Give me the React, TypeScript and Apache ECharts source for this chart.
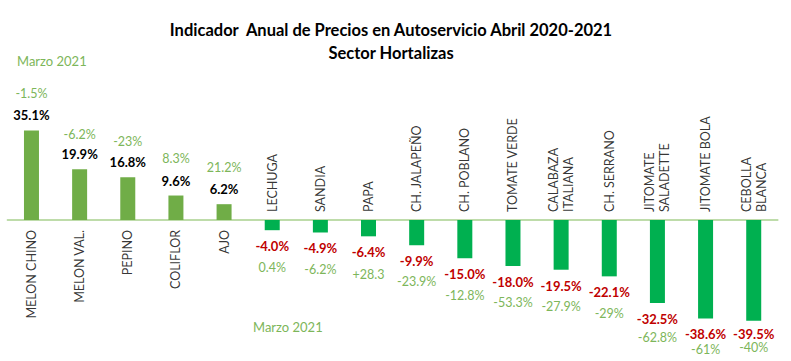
import React, { useEffect, useRef } from "react";
import * as echarts from "echarts";

const categories = [
  "MELON CHINO", "MELON VAL.", "PEPINO", "COLIFLOR", "AJO", "LECHUGA", "SANDIA", "PAPA",
  "CH. JALAPEÑO", "CH. POBLANO", "TOMATE VERDE", "CALABAZA\nITALIANA", "CH. SERRANO",
  "JITOMATE\nSALADETTE", "JITOMATE BOLA", "CEBOLLA\nBLANCA",
];
const abril2021 = [35.1, 19.9, 16.8, 9.6, 6.2, -4.0, -4.9, -6.4, -9.9, -15.0, -18.0, -19.5, -22.1, -32.5, -38.6, -39.5];
const marzo2021 = ["-1.5%", "-6.2%", "-23%", "8.3%", "21.2%", "0.4%", "-6.2%", "+28.3", "-23.9%", "-12.8%", "-53.3%", "-27.9%", "-29%", "-62.8%", "-61%", "-40%"];
const greenGap = [28, 24, 26, 28, 28, 26, 26, 28, 24, 26, 26, 26, 26, 22, 14, 14];
const redGap = [16, 16, 16, 16, 16, 16, 16, 16, 16, 16, 16, 16, 16, 16, 16, 14];
const labelDist = [7, 7, 7, 7, 7, 8, 8, 8, 8, 8, 8, 8, 8, 8, 8, 6];

const FONT = "Lato";
const POS = "#70AD47";
const NEG = "#00B050";
const GTEXT = "#7DB65A";
const RED = "#C00000";

export default function App() {
  const ref = useRef<HTMLDivElement>(null);
  useEffect(() => {
    if (!ref.current) return;
    const chart = echarts.init(ref.current, undefined, { renderer: "svg" });
    const barData = abril2021.map((v, i) => {
      const pos = v >= 0;
      const val = v.toFixed(1) + "%";
      return {
        value: v,
        itemStyle: { color: pos ? POS : NEG },
        label: pos
          ? {
              show: true,
              position: "top",
              distance: labelDist[i],
              formatter: "{g|" + marzo2021[i] + "}\n{b|" + val + "}",
              rich: {
                g: { color: GTEXT, fontSize: 12.5, fontFamily: FONT, lineHeight: greenGap[i] },
                b: { color: "#000", fontSize: 13, fontWeight: "bold", fontFamily: FONT, lineHeight: 16 },
              },
            }
          : {
              show: true,
              position: "bottom",
              distance: labelDist[i],
              formatter: "{r|" + val + "}\n{g|" + marzo2021[i] + "}",
              rich: {
                r: { color: RED, fontSize: 13, fontWeight: "bold", fontFamily: FONT, lineHeight: redGap[i] },
                g: { color: GTEXT, fontSize: 12.5, fontFamily: FONT, lineHeight: greenGap[i] },
              },
            },
      };
    });
    const nameData = categories.map((c, i) => {
      const pos = abril2021[i] >= 0;
      return {
        value: [i, 0],
        label: pos
          ? { position: "bottom", distance: 10, align: "right", formatter: c }
          : { position: "top", distance: 8, align: "left", formatter: c },
      };
    });
    chart.setOption({
      animation: false,
      title: {
        text: "Indicador  Anual de Precios en Autoservicio Abril 2020-2021\nSector Hortalizas",
        left: 386,
        textAlign: "center",
        top: 13,
        textStyle: { fontFamily: FONT, fontSize: 16.5, fontWeight: "bold", color: "#000", lineHeight: 23 },
      },
      grid: { left: 7.4, width: 770.4, top: 118, height: 204, containLabel: false, outerBoundsMode: "none" },
      xAxis: {
        type: "category",
        data: categories,
        axisLine: { onZero: true, lineStyle: { color: "#A9D18E", width: 1.5 } },
        axisTick: { show: false },
        axisLabel: { show: false },
      },
      yAxis: { type: "value", min: -40, max: 40, show: false },
      graphic: [
        { type: "text", left: 17, top: 54, style: { text: "Marzo 2021", fill: GTEXT, font: "13px " + FONT } },
        { type: "text", left: 253, top: 320, style: { text: "Marzo 2021", fill: GTEXT, font: "13px " + FONT } },
      ],
      series: [
        { type: "bar", data: barData, barWidth: 15 },
        {
          type: "scatter",
          data: nameData,
          symbolSize: 0,
          silent: true,
          label: {
            show: true,
            rotate: 90,
            verticalAlign: "middle",
            fontFamily: FONT,
            fontSize: 12.5,
            color: "#000",
            lineHeight: 15,
          },
        },
      ],
    });
    return () => chart.dispose();
  }, []);
  return <div ref={ref} style={{ position: "fixed", left: 0, top: 0, width: 791, height: 361, background: "#fff" }} />;
}
